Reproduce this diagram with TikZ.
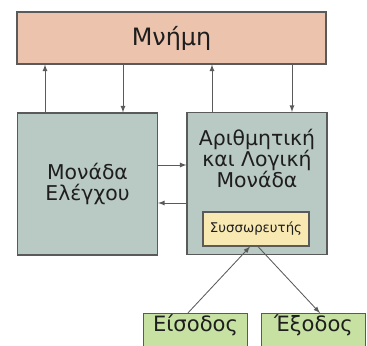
\documentclass[tikz,border=0pt]{standalone}
\usepackage{fontspec}
\setmainfont{DejaVu Sans}
\usetikzlibrary{arrows, shapes, positioning}
\definecolor{memfill}{RGB}{236,196,174}
\definecolor{unitfill}{RGB}{185,201,196}
\definecolor{accfill}{RGB}{248,232,178}
\definecolor{iofill}{RGB}{198,225,162}
\definecolor{edgegray}{RGB}{90,90,90}
\definecolor{textdark}{RGB}{30,30,30}

\begin{document}
\begin{tikzpicture}[x=0.025cm, y=-0.025cm, >=latex,
	box/.style={draw=edgegray, line width=0.8pt, text=textdark, inner sep=0pt},
	unit/.style={box, fill=unitfill, minimum width=3.5cm, minimum height=3.55cm},
	iobox/.style={box, fill=iofill, anchor=north, minimum width=2.6cm, inner ysep=1.5pt,
		font=\fontsize{15}{15}\selectfont, text height=11pt, text depth=30pt},
	link/.style={->, draw=edgegray, line width=0.6pt},
	]
	\clip (0,0) rectangle (367,345);
	\node[box, fill=memfill, minimum width=7.725cm, minimum height=1.3cm,
	font=\fontsize{17}{20}\selectfont] (mem) at (171.5,38) {Μνήμη};
	\node[unit, align=center, font=\fontsize{14.5}{15}\selectfont] (ctrl) at (87.5,184) {Μονάδα\\Ελέγχου};
	\node[unit,
	label={[anchor=north, yshift=-0.3cm, align=center, text=textdark,
		font=\fontsize{14.5}{15}\selectfont]north:{Αριθμητική\\και Λογική\\Μονάδα}},
	] (alu) at (257,183.5) {};
	\node[box, fill=accfill, minimum width=2.65cm, minimum height=0.85cm,
	font=\fontsize{9.5}{11}\selectfont] (acc) at (256,229) {Συσσωρευτής};
	\node[iobox] (in) at (195.5,313) {Είσοδος};
	\node[iobox] (out) at (313.5,313) {Έξοδος};
	% memory <-> units
	\draw[link] (ctrl.north -| 45,0) -- (mem.south -| 45,0);
	\draw[link] (mem.south -| 123,0) -- (ctrl.north -| 123,0);
	\draw[link] (alu.north -| 212,0) -- (mem.south -| 212,0);
	\draw[link] (mem.south -| 292,0) -- (alu.north -| 292,0);
	% between the units
	\draw[link] (ctrl.east |- 0,165) -- (alu.west |- 0,165);
	\draw[link] (alu.west |- 0,203) -- (ctrl.east |- 0,203);
	% in and out
	\draw[link] ([xshift=-0.19cm]in.north) -- ([xshift=-0.15cm]acc.south);
	\draw[link] ([xshift=0.05cm]acc.south) -- ([xshift=0.16cm]out.north);
\end{tikzpicture}
\end{document}
